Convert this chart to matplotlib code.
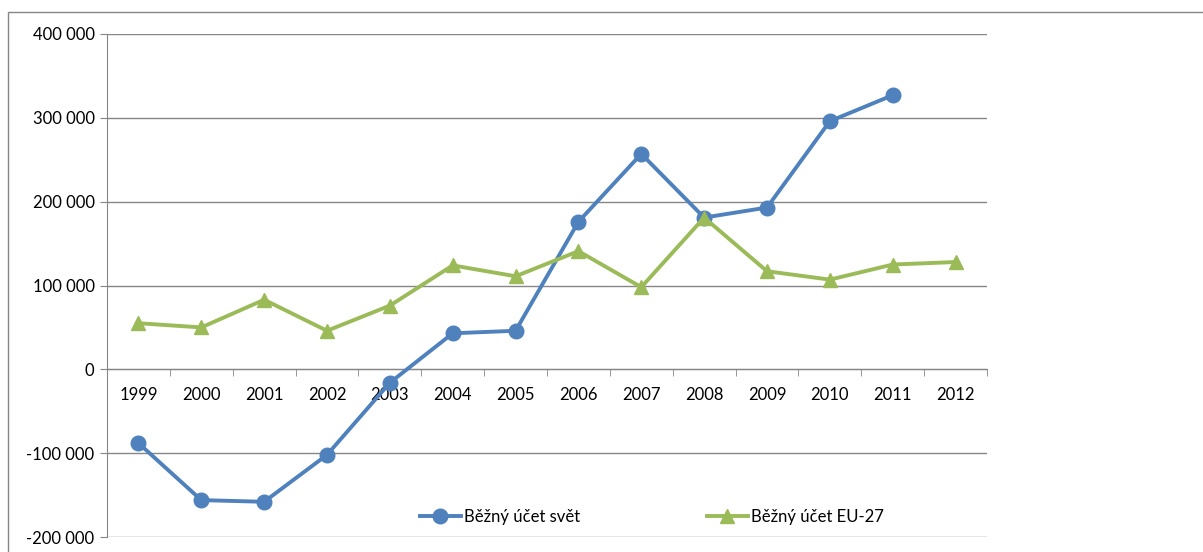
import numpy as np
import matplotlib.pyplot as plt
from matplotlib.patches import Rectangle

# Data
roky = ['1999', '2000', '2001', '2002', '2003', '2004', '2005', '2006',
        '2007', '2008', '2009', '2010', '2011', '2012']
svet = [-88000, -156000, -158000, -102000, -16000, 43000, 46000, 176000,
        257000, 181000, 193000, 296000, 327000, np.nan]
eu27 = [55000, 50000, 83000, 46000, 76000, 124000, 111000, 141000,
        98000, 181000, 117000, 107000, 125000, 128000]
y_ticks = [-200000, -100000, 0, 100000, 200000, 300000, 400000]

plt.rcParams['font.family'] = ['Lato', 'DejaVu Sans']

fig = plt.figure(figsize=(12.03, 5.52), dpi=100)
ax = fig.add_axes([107 / 1203, 1 - 537 / 552, (987 - 107) / 1203, (537 - 34) / 552])

# outer chart border
fig.patches.append(Rectangle((8 / 1203, -0.1), 1.2, 1 - 12 / 552 + 0.1,
                             transform=fig.transFigure, fill=False,
                             edgecolor='#868686', linewidth=1))

# osa x prochazi nulou (nastavit pred popisky, jinak se resetuji)
ax.spines['bottom'].set_position(('data', 0))
ax.spines['bottom'].set_color('#868686')
ax.spines['left'].set_color('#868686')
ax.spines['top'].set_visible(False)
ax.spines['right'].set_visible(False)

x = np.arange(len(roky))
ax.plot(x, svet, color='#4F81BD', linewidth=2.8, marker='o', markersize=10.5,
        label='Běžný účet svět', zorder=3)
ax.plot(x, eu27, color='#9BBB59', linewidth=2.8, marker='^', markersize=10.5,
        label='Běžný účet EU-27', zorder=3)

ax.set_xlim(-0.5, len(roky) - 0.5)
ax.set_ylim(-200000, 400000)
ax.set_yticks(y_ticks)
ax.set_yticklabels([f'{v:,}'.replace(',', ' ') for v in y_ticks])
ax.yaxis.grid(True, color='#868686', linewidth=1)
ax.set_axisbelow(True)

ax.set_xticks(x)
ax.set_xticklabels(roky)
ax.set_xticks(np.arange(len(roky) + 1) - 0.5, minor=True)
ax.tick_params(axis='x', which='major', length=0, pad=13, labelsize=12)
ax.tick_params(axis='x', which='minor', length=5, color='#868686', direction='out')
ax.tick_params(axis='y', length=5, color='#868686', pad=4, labelsize=12)

fig.legend(loc='center', bbox_to_anchor=(652 / 1203, 1 - 517 / 552), ncol=2,
           frameon=False, fontsize=12, handlelength=2.45, handletextpad=0.2,
           columnspacing=7.6)

fig.savefig('out.png', dpi=100)
